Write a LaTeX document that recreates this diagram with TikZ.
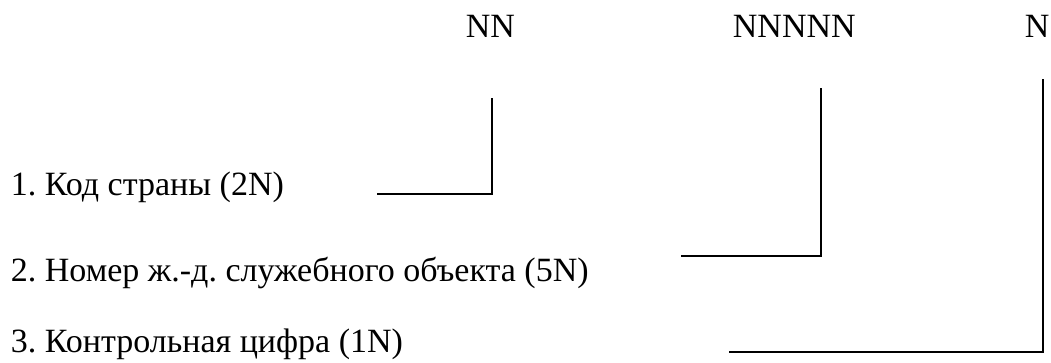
\documentclass[tikz,border=0pt]{standalone}
\usepackage{fontspec}
\setmainfont{Liberation Serif}
\frenchspacing

\begin{document}
\begin{tikzpicture}[x=1pt,y=-1pt,line width=1.8pt,
                    every node/.style={font=\fontsize{34}{40}\selectfont,inner sep=0pt}]
\tikzstyle{digits}=[anchor=base west]
	\tikzstyle{item}=[anchor=base west]
\useasboundingbox (0,0) rectangle (1051,362);
\node [digits] (cc) at (465,37) {NN};
\node [digits] (obj) at (732,37) {NNNNN};
\node [digits] (chk) at (1024,37) {N};

\node [item] (cclabel) at (10,195) {1. Код страны (2N)};
\node [item] (objlabel) at (10,281) {2. Номер ж.-д. служебного объекта (5N)};
\node [item] (chklabel) at (10,352) {3. Контрольная цифра (1N)};

\coordinate (cctop) at (492,98);
\coordinate (ccend) at (377,194);
\coordinate (objtop) at (821,88);
\coordinate (objend) at (681,256);
\coordinate (chktop) at (1043,79);
\coordinate (chkend) at (729,352);

\draw (cctop) |- (ccend);
\draw (objtop) |- (objend);
\draw (chktop) |- (chkend);

	\end{tikzpicture}
\end{document}
